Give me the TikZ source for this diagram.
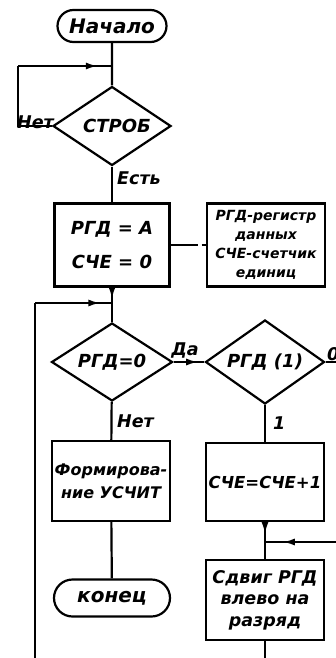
\documentclass[tikz,border=0pt]{standalone}
\usepackage{fontspec}
\setmainfont{DejaVu Sans}
\usetikzlibrary{arrows.meta,positioning,shapes.geometric,shapes.misc,decorations.markings}
\tikzset{
  line/.style={line width=2.2pt},
  hand/.style={font=\bfseries\itshape\fontsize{#1}{#1}\selectfont},
  hand/.default=18,
  term/.style={rounded rectangle,draw,line width=2.2pt,hand,inner sep=0pt},
  test/.style={diamond,aspect=1.6,draw,line width=2.2pt,hand,inner sep=0pt},
  proc/.style={rectangle,draw,line width=2.2pt,hand,align=center,inner sep=0pt},
  lbl/.style={hand=17.5,inner sep=1pt},
  midarrow/.style={postaction={decorate},decoration={markings,
    mark=at position #1 with {\arrow{Latex[length=12pt,width=7pt]}}}},
}
\begin{document}
\begin{tikzpicture}[x=1pt,y=-1pt]
  \useasboundingbox (0,0) rectangle (336,658);
  % blocks
  \node[term,hand=20,minimum width=109pt,minimum height=32pt] (start) at (112,26) {Начало};
  \node[test,minimum width=118pt,minimum height=79pt] (strob) at (112,126) {\hspace{10pt}СТРОБ};
  \node[proc,minimum width=115pt,minimum height=83pt] (init) at (112,245)
    {РГД = А\\[16pt]СЧЕ = 0};
  \node[proc,font=\bfseries\itshape\fontsize{14}{19}\selectfont,
    minimum width=118pt,minimum height=83pt,text width=114pt] (note) at (266,245)
    {РГД-регистр\\данных\\СЧЕ-счетчик\\единиц};
  \node[test,minimum width=121pt,minimum height=78pt] (rgd0) at (112,362) {РГД=0};
  \node[test,minimum width=119pt,minimum height=84pt] (rgd1) at (265,362) {РГД (1)};
  \node[proc,hand=16,minimum width=118pt,minimum height=80pt] (form) at (111,481)
    {Формирова-\\[7pt]ние УСЧИТ};
  \node[proc,hand=16.5,minimum width=118pt,minimum height=78pt] (inc) at (265,482) {СЧЕ=СЧЕ+1};
  \node[term,hand=20,minimum width=116pt,minimum height=37pt] (end) at (112,598) {конец};
  \node[proc,hand=17.5,minimum width=118pt,minimum height=80pt] (shift) at (265,600)
    {Сдвиг РГД\\[4pt]влево на\\[4pt]разряд};
  % points of the lines
  \coordinate (j1) at (112,66);
  \coordinate (l1) at (18,66);
  \coordinate (j2) at (112,303);
  \coordinate (l2) at (35,303);
  \coordinate (l2b) at (35,658);
  \coordinate (r1) at (336,362);
  \coordinate (j3) at (265,542);
  \coordinate (r3) at (336,542);
  \coordinate (b3) at (265,658);
  % lines
  \draw[line] (start) -- (strob);
  \draw[line] (strob.west) -| (l1);
  \draw[line,midarrow=0.85] (l1) -- (j1);
  \draw[line] (strob) -- (init);
  \draw[line,dash pattern=on 27pt off 4pt] (init) -- (note);
  \draw[line,midarrow=0.75] (init) -- (j2);
  \draw[line] (j2) -- (rgd0);
  \draw[line] (l2b) -- (l2);
  \draw[line,midarrow=0.85] (l2) -- (j2);
  \draw[line,midarrow=0.8] (rgd0) -- (rgd1);
  \draw[line] (rgd1) -- (r1);
  \draw[line] (rgd0) -- (form);
  \draw[line] (form) -- (end);
  \draw[line] (rgd1) -- (inc);
  \draw[line,midarrow=0.6] (inc) -- (j3);
  \draw[line] (j3) -- (shift);
  \draw[line,midarrow=0.75] (r3) -- (j3);
  \draw[line] (shift) -- (b3);
  % labels
  \node[lbl,anchor=south west] (no1) at (16,130) {Нет};
  \node[lbl,anchor=west] (yes1) at (116,178) {Есть};
  \node[lbl,anchor=south] (da) at (185,359) {Да};
  \node[lbl,anchor=west] (no2) at (116,421) {Нет};
  \node[lbl,anchor=west] (one) at (272,423) {1};
  \node[lbl,anchor=south west] (zero) at (326,362) {0};
\end{tikzpicture}
\end{document}
